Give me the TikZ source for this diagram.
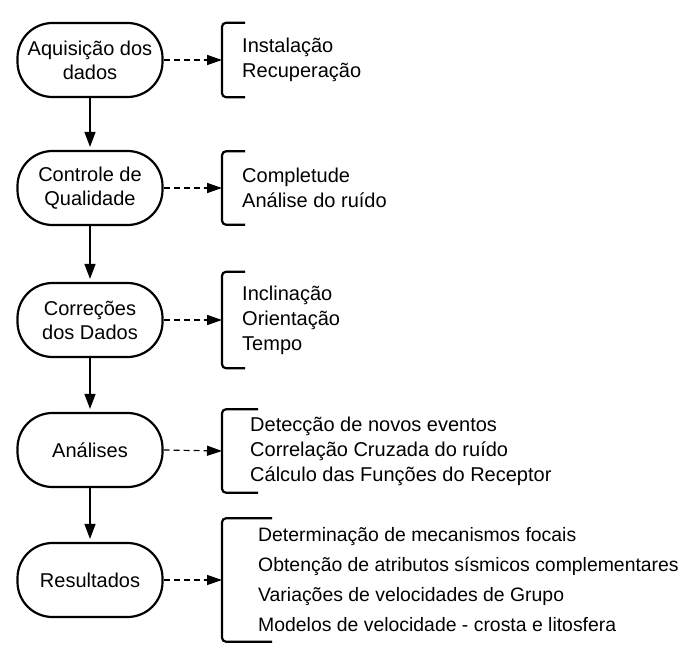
\documentclass[tikz,border=0pt]{standalone}
\usepackage{fontspec}
\setmainfont{Liberation Sans}
\usetikzlibrary{arrows.meta}

\begin{document}
\begin{tikzpicture}[x=1pt,y=-1pt,
    etapa/.style={draw,line width=2.2pt,rounded corners=35pt,minimum width=145pt,
      minimum height=74pt,align=center,inner sep=0pt,font=\fontsize{20}{24}\selectfont},
    lista/.style={anchor=west,align=left,inner xsep=20pt,inner ysep=0pt,
      font=\fontsize{20}{25}\selectfont},
    seta/.style={line width=1.6pt,shorten >=3pt,-{Triangle[length=15pt,width=11pt]}},
    tracej/.style={line width=1.5pt,dash pattern=on 6pt off 4pt,
      -{Triangle[length=15pt,width=10pt]}},
    chave/.style={line width=2.2pt,rounded corners=4pt}]
\useasboundingbox (0,0) rectangle (695,652);
% etapas
\node[etapa] (aq) at (90,60) {Aquisição dos\\dados};
\node[etapa] (cq) at (90,188) {Controle de\\Qualidade};
\node[etapa] (cd) at (90,320) {Correções\\dos Dados};
\node[etapa] (an) at (90,450) {Análises};
\node[etapa] (rs) at (90,580) {Resultados};
% listas
\node[lista,minimum height=74pt] (l1) at (222,60) {Instalação\\Recuperação};
\node[lista,minimum height=73pt] (l2) at (222,188) {Completude\\Análise do ruído};
\node[lista,minimum height=96pt] (l3) at (222,320) {Inclinação\\Orientação\\Tempo};
\node[lista,minimum height=83pt,inner xsep=28pt] (l4) at (222,451)
  {Detecção de novos eventos\\Correlação Cruzada do ruído\\Cálculo das Funções do Receptor};
\node[lista,minimum height=123pt,inner xsep=36pt,font=\fontsize{19.4}{30}\selectfont] (l5) at (222,580)
  {Determinação de mecanismos focais\\Obtenção de atributos sísmicos complementares\\
   Variações de velocidades de Grupo\\Modelos de velocidade - crosta e litosfera};
%
\foreach \l/\w in {l1/23,l2/23,l3/23,l4/36,l5/50}
  \draw[chave] ([xshift=\w pt]\l.north west) -- (\l.north west) -- (\l.south west)
    -- ([xshift=\w pt]\l.south west);
\foreach \a/\l in {aq/l1,cq/l2,cd/l3}
  \draw[tracej] (\a.east) -- (\l.west);
\foreach \a/\l in {an/l4,rs/l5}
  \draw[tracej,line width=1.2pt] (\a.east) -- (\l.west);
\foreach \a/\b in {aq/cq,cq/cd,cd/an,an/rs}
  \draw[seta] (\a) -- (\b);
\end{tikzpicture}
\end{document}
